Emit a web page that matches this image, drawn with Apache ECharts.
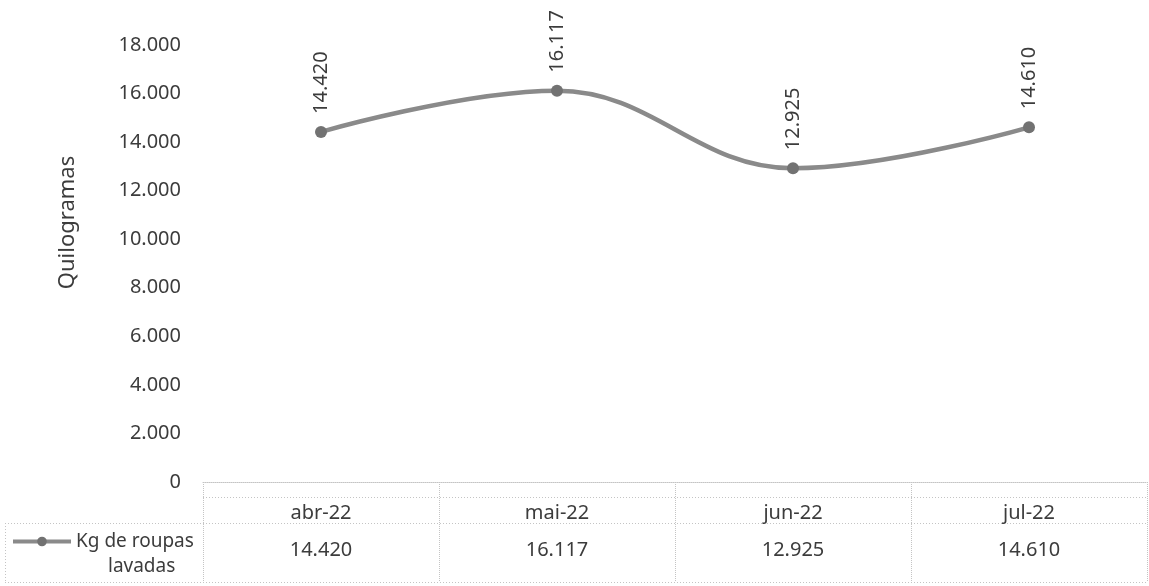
<!DOCTYPE html>
<html>
<head>
<meta charset="utf-8">
<script src="https://cdn.jsdelivr.net/npm/echarts@6/dist/echarts.min.js"></script>
<style>
html,body{margin:0;padding:0;background:#fff;}
#c{width:1149px;height:586px;}
</style>
</head>
<body>
<div id="c"></div>
<script>
const categories = ['abr-22', 'mai-22', 'jun-22', 'jul-22'];
const seriesName = 'Kg de roupas lavadas';
const values = [14420, 16117, 12925, 14610];
const yMin = 0, yMax = 18000, yStep = 2000;
const yTitle = 'Quilogramas';

function fmt(v) { return String(v).replace(/\B(?=(\d{3})+(?!\d))/g, '.'); }

const FONT = 'Noto Sans';
const TXT = '#3c3c3c';
const GRIDC = '#c4c4c4';
const FS = 20;

const chart = echarts.init(document.getElementById('c'), null, {renderer: 'canvas'});
chart.setOption({
  backgroundColor: '#fff',
  animation: false,
  textStyle: {fontFamily: FONT},
  grid: {left: 203, right: 2, top: 45, bottom: 104, containLabel: false},
  legend: {
    left: 6, top: 527,
    itemWidth: 58, itemHeight: 12, itemGap: 0,
    data: [seriesName],
    lineStyle: {width: 4},
    formatter: function () { return '{a|Kg de roupas}\n{b|lavadas}'; },
    textStyle: {
      color: TXT, fontFamily: FONT, fontSize: 19, padding: [25, 0, 0, 0],
      rich: {
        a: {fontSize: 19, color: TXT, fontFamily: FONT, lineHeight: 25},
        b: {fontSize: 19, color: TXT, fontFamily: FONT, lineHeight: 25, padding: [0, 0, 0, 32]}
      }
    }
  },
  xAxis: [{
    type: 'category', data: categories, boundaryGap: true, position: 'bottom',
    axisLine: {show: true, lineStyle: {color: GRIDC, type: 'dotted', width: 1}},
    axisTick: {show: true, alignWithLabel: false, length: 100, lineStyle: {color: GRIDC, type: 'dotted', width: 1}},
    axisLabel: {margin: 21, fontSize: FS, color: TXT, fontFamily: FONT},
    splitLine: {show: false}
  }, {
    type: 'category', data: categories, boundaryGap: true, position: 'bottom',
    axisLine: {show: false}, axisTick: {show: false},
    axisLabel: {margin: 58, fontSize: FS, color: TXT, fontFamily: FONT,
      formatter: function (v, i) { return fmt(values[i]); }},
    splitLine: {show: false}
  }],
  yAxis: {
    type: 'value', min: yMin, max: yMax, interval: yStep,
    name: yTitle, nameLocation: 'middle', nameRotate: 90, nameGap: 124,
    nameTextStyle: {fontSize: 22, color: TXT, fontFamily: FONT, padding: [0, 0, 0, 82]},
    axisLine: {show: false}, axisTick: {show: false},
    splitLine: {show: false},
    axisLabel: {margin: 22, fontSize: FS, color: TXT, fontFamily: FONT, formatter: function (v) { return fmt(v); }}
  },
  graphic: [
    {type: 'line', shape: {x1: 203, y1: 497.5, x2: 1147, y2: 497.5}, style: {stroke: GRIDC, lineWidth: 1, lineDash: [1, 2]}},
    {type: 'line', shape: {x1: 5, y1: 523.5, x2: 1147, y2: 523.5}, style: {stroke: GRIDC, lineWidth: 1, lineDash: [1, 2]}},
    {type: 'line', shape: {x1: 5, y1: 582.5, x2: 1147, y2: 582.5}, style: {stroke: GRIDC, lineWidth: 1, lineDash: [1, 2]}},
    {type: 'line', shape: {x1: 5.5, y1: 523, x2: 5.5, y2: 583}, style: {stroke: GRIDC, lineWidth: 1, lineDash: [1, 2]}}
  ],
  series: [{
    name: seriesName, type: 'line', data: values, smooth: 0.4,
    symbol: 'circle', symbolSize: 12,
    lineStyle: {color: '#8a8a8a', width: 4.5},
    itemStyle: {color: '#727272'},
    label: {
      show: true, position: 'top', distance: 12, rotate: 90,
      align: 'left', verticalAlign: 'middle',
      fontSize: FS, color: TXT, fontFamily: FONT,
      formatter: function (p) { return fmt(p.value); }
    }
  }]
});
</script>
</body>
</html>
